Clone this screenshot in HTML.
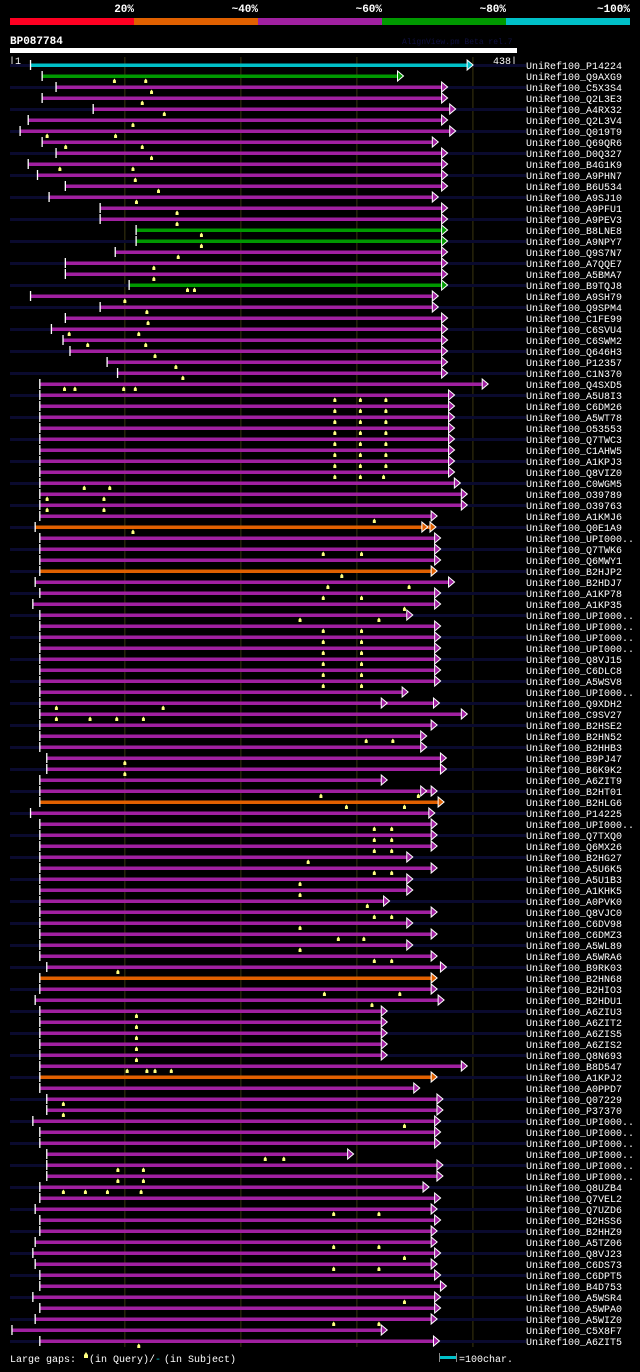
<!DOCTYPE html>
<html><head><meta charset="utf-8"><style>
html,body{margin:0;padding:0;background:#000;}
body{width:640px;height:1367px;overflow:hidden;}
svg text{font-family:"Liberation Mono","DejaVu Sans Mono",monospace;}
</style></head><body>
<svg id="chart" width="640" height="1367" xmlns="http://www.w3.org/2000/svg">
<g>
<rect x="10" y="18" width="124" height="7" fill="#ff0022"/>
<rect x="134" y="18" width="124" height="7" fill="#e06000"/>
<rect x="258" y="18" width="124" height="7" fill="#a020a0"/>
<rect x="382" y="18" width="124" height="7" fill="#009900"/>
<rect x="506" y="18" width="124" height="7" fill="#00c0c8"/>
<text x="134" y="12" fill="#fff" font-size="11" font-weight="bold" text-anchor="end">20%</text>
<text x="258" y="12" fill="#fff" font-size="11" font-weight="bold" text-anchor="end">~40%</text>
<text x="382" y="12" fill="#fff" font-size="11" font-weight="bold" text-anchor="end">~60%</text>
<text x="506" y="12" fill="#fff" font-size="11" font-weight="bold" text-anchor="end">~80%</text>
<text x="630" y="12" fill="#fff" font-size="11" font-weight="bold" text-anchor="end">~100%</text>
</g>
<text x="10" y="44" fill="#fff" font-size="11" font-weight="bold">BP087784</text>
<text x="402" y="44" fill="#101040" font-size="8">AlignView.pm Beta rel.7</text>
<rect x="10" y="48" width="507" height="5" fill="#fff"/>
<text x="9" y="64" fill="#fff" font-size="10">|1</text>
<text x="517" y="64" fill="#fff" font-size="10" text-anchor="end">438|</text>
<g id="grid"></g>
<g id="rows"></g>
<g>
<text x="10" y="1362" fill="#fff" font-size="10">Large gaps:</text>
<path d="M84 1355 l2 -3 l2 3 v3 h-4z" fill="#ffff80"/>
<text x="89" y="1362" fill="#fff" font-size="10">(in Query)/</text>
<text x="155" y="1362" fill="#00c0c8" font-size="10">-</text>
<text x="164" y="1362" fill="#fff" font-size="10">(in Subject)</text>
<rect x="440" y="1356" width="16" height="3" fill="#00c0c8"/>
<rect x="439" y="1353" width="1" height="9" fill="#888"/>
<rect x="456" y="1353" width="1" height="9" fill="#888"/>
<text x="459" y="1362" fill="#fff" font-size="10">=100char.</text>
</g>
</svg>
<script>
const ids = ["P14224","Q9AXG9","C5X3S4","Q2L3E3","A4RX32","Q2L3V4","Q019T9","Q69QR6","D0Q327","B4G1K9","A9PHN7","B6U534","A9SJ10","A9PFU1","A9PEV3","B8LNE8","A9NPY7","Q9S7N7","A7QQE7","A5BMA7","B9TQJ8","A9SH79","Q9SPM4","C1FE99","C6SVU4","C6SWM2","Q646H3","P12357","C1N370","Q4SXD5","A5U8I3","C6DM26","A5WT78","O53553","Q7TWC3","C1AHW5","A1KPJ3","Q8VIZ0","C0WGM5","O39789","O39763","A1KMJ6","Q0E1A9","UPI000..","Q7TWK6","Q6MWY1","B2HJP2","B2HDJ7","A1KP78","A1KP35","UPI000..","UPI000..","UPI000..","UPI000..","Q8VJ15","C6DLC8","A5WSV8","UPI000..","Q9XDH2","C9SV27","B2HSE2","B2HN52","B2HHB3","B9PJ47","B6K9K2","A6ZIT9","B2HT01","B2HLG6","P14225","UPI000..","Q7TXQ0","Q6MX26","B2HG27","A5U6K5","A5U1B3","A1KHK5","A0PVK0","Q8VJC0","C6DV98","C6DMZ3","A5WL89","A5WRA6","B9RK03","B2HN68","B2HIO3","B2HDU1","A6ZIU3","A6ZIT2","A6ZIS5","A6ZIS2","Q8N693","B8D547","A1KPJ2","A0PPD7","Q07229","P37370","UPI000..","UPI000..","UPI000..","UPI000..","UPI000..","UPI000..","Q8UZB4","Q7VEL2","Q7UZD6","B2HSS6","B2HHZ9","A5TZ06","Q8VJ23","C6DS73","C6DPT5","B4D753","A5WSR4","A5WPA0","A5WIZ0","C5X8F7","A6ZIT5"];
const starts = [19,29,41,29,73,17,10,29,41,17,25,49,35,79,79,110,110,92,49,49,104,19,79,49,37,47,53,85,94,27,27,27,27,27,27,27,27,27,27,27,27,27,23,27,27,27,27,23,27,21,27,27,27,27,27,27,27,27,27,27,27,27,27,33,33,27,27,27,19,27,27,27,27,27,27,27,27,27,27,27,27,27,33,27,27,23,27,27,27,27,27,27,27,27,33,33,21,27,27,33,33,33,27,27,23,27,27,23,21,23,27,27,21,27,23,3,27];
const ends = [395,335,373,373,380,373,380,365,373,373,373,373,365,373,373,373,373,373,373,373,373,365,365,373,373,373,373,373,373,408,379,379,379,379,379,379,379,379,384,390,390,364,363,367,367,367,364,379,367,367,343,367,367,367,367,367,367,339,366,390,364,355,355,372,372,321,364,370,362,364,364,364,343,364,343,343,323,364,343,364,343,364,372,364,364,370,321,321,321,321,321,390,364,349,369,369,367,367,367,292,369,369,357,367,364,367,364,364,367,364,367,372,367,367,364,321,366];
const colors = "cgmmmmmmmmmmmmmmgmmmmggmmmmmmmmmmmmmmmmmmmommmmommmmmmmmmmmmmmmmmmmmmmmmmmmmmmmmmmmmmmmmmmmmmmmmmmmmmmmmmmmmmmmmmmmmmmmmmmmmmmmmmmmm";
const colorCodes = ["c","g","m","o"];
const colorCodeList = "c,g,m,m,m,m,m,m,m,m,m,m,m,m,m,g,g,m,m,m,g,m,m,m,m,m,m,m,m,m,m,m,m,m,m,m,m,m,m,m,m,m,o,m,m,m,o,m,m,m,m,m,m,m,m,m,m,m,m,m,m,m,m,m,m,m,m,o,m,m,m,m,m,m,m,m,m,m,m,m,m,m,m,o,m,m,m,m,m,m,m,m,o,m,m,m,m,m,m,m,m,m,m,m,m,m,m,m,m,m,m,m,m,m,m,m,m".split(",");
const markers = [[],[91,118],[123],[115],[134],[107],[33,92],[49,115],[123],[44,107],[109],[129],[110],[145],[145],[166],[166],[146],[125],[125],[154,160],[100],[119],[120],[52,112],[68,118],[126],[144],[150],[48,57,99,109],
[281,303,325],[281,303,325],[281,303,325],[281,303,325],[281,303,325],[281,303,325],[281,303,325],[281,303,323],[65,87],[33,82],[33,82],[315],[107],[],[271,304],[],[287],[275,345],[271,304],[341],[251,319],[271,304],[271,304],[271,304],[271,304],[271,304],[271,304],[],[41,133],[41,70,93,116],
[],[308,331],[],[100],[100],[],[269,353],[291,341],[],[315,330],[315,330],[315,330],[258],[315,330],[251],[251],[309],[315,330],[251],[284,306],[251],[315,330],[94],[],[272,337],[313],[110],[110],[110],[110],[110],[102,119,126,140],
[],[],[47],[47],[341],[],[],[221,237],[94,116],[94,116],[47,66,85,114],[],[280,319],[],[],[280,319],[341],[280,319],[],[],[341],[],[280,319],[],[112]];
const splitRow = [42,58,66];
const splitEnd = [356,321,355];
const gridTicks = [100,200,300,400];

const palette = {c:"#00c0c8",g:"#009900",m:"#a020a0",o:"#e06000"};
const xs = p => 10 + (p-1)*507/437;
const yRow = i => 65 + i*11;
const NS = "http://www.w3.org/2000/svg";
function mk(tag, attrs, parent){const e=document.createElementNS(NS,tag);for(const k in attrs)e.setAttribute(k,attrs[k]);parent.appendChild(e);return e;}

const grid = document.getElementById('grid');
gridTicks.forEach(t=>{
  const l = mk('rect',{x:xs(t)-0.5,y:57,width:1,height:1290,fill:'#3a3510'},grid);
  
  
});
const rowsG = document.getElementById('rows');
ids.forEach((id,i)=>{
  const y = yRow(i);
  const g = mk('g',{},rowsG);
  
  
  if(i%2===0) mk('rect',{x:10,y:y-1,width:516,height:3,fill:'#0a0a2e'},g);
  const col = palette[colorCodeList[i]];
  const x0 = xs(starts[i]), x1 = xs(ends[i]);
  const bar = mk('rect',{x:x0,y:y-1.5,width:x1-x0,height:3.5,fill:col},g);
  
  
  mk('rect',{x:x0-1,y:y-5,width:1.3,height:10,fill:'#fff'},g);
  mk('path',{d:`M${x1} ${y-5} L${x1+6} ${y} L${x1} ${y+5} Z`,fill:col,stroke:'#fff','stroke-width':1},g);
  const si = splitRow.indexOf(i);
  if(si>=0){const xe=xs(splitEnd[si]);mk('path',{d:`M${xe} ${y-5} L${xe+6} ${y} L${xe} ${y+5} Z`,fill:col,stroke:'#fff','stroke-width':1},g);}
  markers[i].forEach(m=>{
    const mx = xs(m);
    const mm = mk('path',{d:`M${mx-1.5} ${y+7} v-2.5 l1.5 -2 l1.5 2 v2.5 z`,fill:'#ffff80'},g);
    
    
  });
  const t = mk('text',{x:526,y:y+4,fill:'#fff','font-size':10},g);
  t.textContent = 'UniRef100_'+id;
  
  
});
</script>
</body></html>
